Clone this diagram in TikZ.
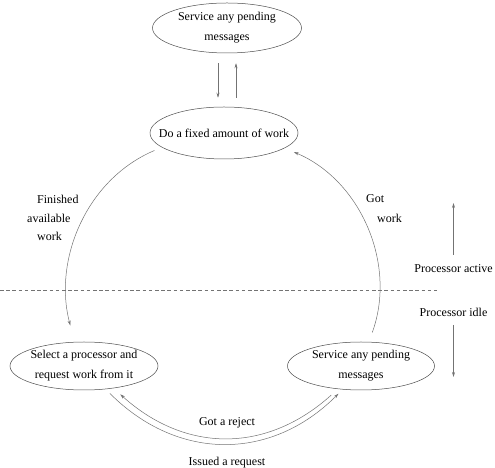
\documentclass[tikz,border=0pt]{standalone}
\usepackage{fontspec}
\setmainfont{Liberation Serif}
\usetikzlibrary{shapes.geometric,arrows.meta}

\begin{document}
\begin{tikzpicture}[x=1pt, y=1pt,
    every node/.style={font=\fontsize{12}{20}\selectfont},
    state/.style={ellipse, draw=black!70, line width=0.5pt, inner xsep=-15pt, inner ysep=0pt, align=center},
    flow/.style={draw=black!55, line width=0.5pt, -{Stealth[length=5pt,width=3pt]}},
    lbl/.style={inner sep=0pt}]

  \useasboundingbox (0,0) rectangle (495,468);

  % States
  \node[state, minimum width=149pt, minimum height=50pt] (msgtop) at (227,440) {Service any pending\\messages};
  \node[state, minimum width=148pt, minimum height=52pt] (work) at (224,335) {Do a fixed amount of work};
  \node[state, minimum width=148pt, minimum height=48pt] (select) at (84,102) {Select a processor and\\request work from it};
  \node[state, minimum width=147pt, minimum height=48pt] (service) at (361,102) {Service any pending\\messages};

  % Labels
  \node[lbl, anchor=west] (fin1) at (37,269) {Finished};
  \node[lbl, anchor=west] (fin2) at (27,250) {available};
  \node[lbl, anchor=west] (fin3) at (37,232) {work};
  \node[lbl, anchor=west] (got1) at (366,269) {Got};
  \node[lbl, anchor=west] (got2) at (377,250) {work};
  \node[lbl, anchor=base] (reject) at (227,42) {Got a reject};
  \node[lbl, anchor=base] (request) at (227,2) {Issued a request};
  \node[lbl] (active) at (453.5,199) {Processor active};
  \node[lbl] (idle) at (453.5,155.5) {Processor idle};

  % Active / idle border
  \draw[black!55, line width=0.5pt, dash pattern=on 3.5pt off 2.7pt] (0,178) -- (437,178);

  % Message servicing while active
  \draw[flow, shorten <=10pt, shorten >=9pt] ([xshift=-9pt]msgtop.south) -- ([xshift=-9pt]msgtop.south |- work.north);
  \draw[flow, shorten <=9pt, shorten >=10pt] ([xshift=9pt]msgtop.south |- work.north) -- ([xshift=9pt]msgtop.south);

  % Work cycle
  \draw[flow, shorten <=8pt, shorten >=17pt] (work.193) to[out=203, in=105] (select.111);
  \draw[flow, shorten <=10pt, shorten >=10pt] (service.72) to[out=70, in=337] (work.346);
  \draw[flow, shorten <=9pt, shorten >=9pt] (service.225) to[out=222, in=318, looseness=1.1] (select.323);
  \draw[flow, shorten <=6pt, shorten >=6pt] (select.313) to[out=315, in=225, looseness=1.1] (service.232);

  % Phase arrows
  \coordinate (activetip) at (453.5,265);
  \coordinate (idletip) at (453.5,91);
  \draw[flow] ([yshift=10pt]active.north) -- (activetip);
  \draw[flow] ([yshift=-8pt]idle.south) -- (idletip);

\end{tikzpicture}
\end{document}
